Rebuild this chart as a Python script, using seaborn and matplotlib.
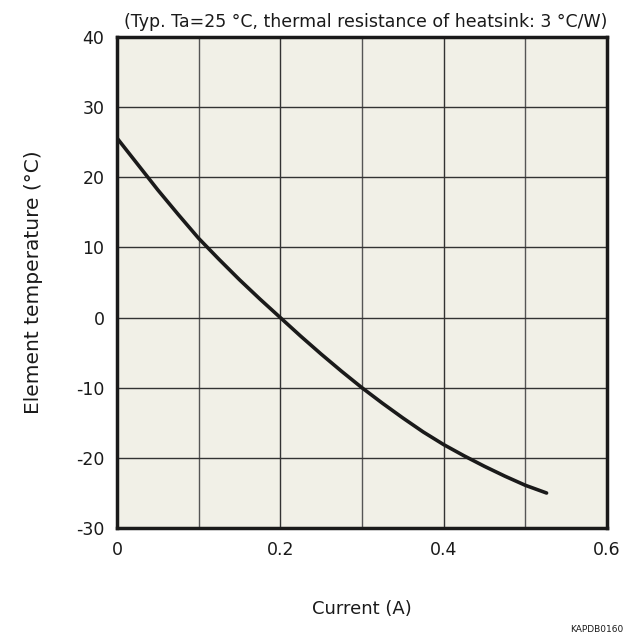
import pandas as pd
import matplotlib.pyplot as plt
import seaborn as sns

# values
current = [0, 0.025, 0.05, 0.075, 0.1, 0.125, 0.15, 0.175, 0.2, 0.225, 0.25, 0.275,
           0.3, 0.325, 0.35, 0.375, 0.4, 0.425, 0.45, 0.475, 0.5, 0.526]
temperature = [25.6, 21.9, 18.2, 14.7, 11.3, 8.3, 5.4, 2.65, 0, -2.65, -5.2, -7.65,
               -10, -12.2, -14.3, -16.3, -18.1, -19.7, -21.2, -22.6, -23.9, -25.0]
x_ticks = [0, 0.2, 0.4, 0.6]
x_tick_labels = ['0', '0.2', '0.4', '0.6']
y_ticks = [-30, -20, -10, 0, 10, 20, 30, 40]

df = pd.DataFrame({'Current': current, 'Temperature': temperature})

sns.set_style('white')
plt.rcParams['font.family'] = ['DejaVu Sans']
plt.rcParams['axes.unicode_minus'] = False

fig = plt.figure(figsize=(6.25, 6.44), dpi=100)
ax = fig.add_axes([0.1872, 0.180, 0.784, 0.7625])
ax.set_facecolor('#f1f0e7')

sns.lineplot(data=df, x='Current', y='Temperature', color='#1a1a1a', linewidth=2.6, ax=ax)

ax.set_xlim(0, 0.6)
ax.set_ylim(-30, 40)
ax.set_xticks(x_ticks)
ax.set_xticklabels(x_tick_labels)
ax.set_yticks(y_ticks)
for v in [0.1, 0.3, 0.5]:
    ax.axvline(v, color='#555555', linewidth=1, zorder=0.5)
ax.grid(True, color='#333333', linewidth=1)
ax.set_axisbelow(True)
ax.tick_params(length=0, labelsize=12.5, pad=9, colors='#1a1a1a')

for s in ax.spines.values():
    s.set_linewidth(2.5)
    s.set_color('#1a1a1a')

ax.set_xlabel('Current (A)', fontsize=13, labelpad=30, color='#1a1a1a')
ax.set_ylabel('Element temperature (°C)', fontsize=14.5, labelpad=24, color='#1a1a1a')
ax.set_title('(Typ. Ta=25 °C, thermal resistance of heatsink: 3 °C/W)',
             loc='right', fontsize=12.5, pad=7, color='#1a1a1a')

fig.text(0.912, 0.018, 'KAPDB0160', fontsize=6.5, color='#1a1a1a')

fig.savefig('out.png', dpi=100)
